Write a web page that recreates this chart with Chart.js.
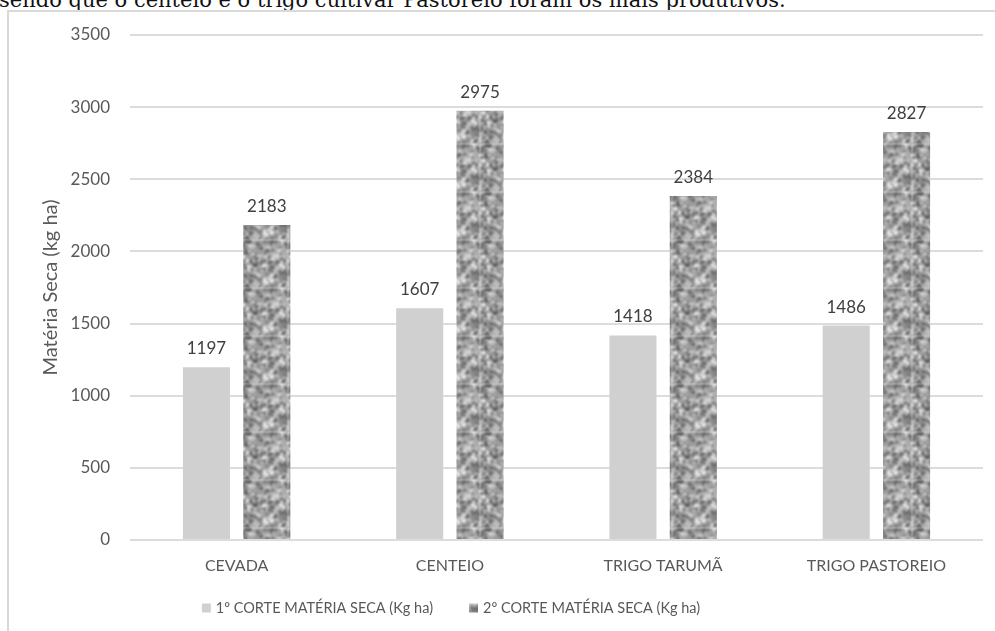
<!DOCTYPE html>
<html>
<head>
<meta charset="utf-8">
<script src="https://cdn.jsdelivr.net/npm/chart.js@4/dist/chart.umd.min.js"></script>
<style>
  html, body { margin: 0; padding: 0; background: #fff; overflow: hidden; }
  body { width: 995px; height: 631px; position: relative; }
  #toptext { position: absolute; left: -1px; top: -11px; line-height: 22px; font-family: "DejaVu Serif", serif; font-size: 21px; color: #111; white-space: nowrap; }
  #frame { position: absolute; left: 7px; top: 10px; width: 1000px; height: 700px; border-left: 2px solid #d9d9d9; border-top: 2px solid #d9d9d9; }
  #wrap { position: absolute; left: 0; top: 0; width: 995px; height: 631px; }
</style>
</head>
<body>
<div id="toptext">sendo que o centeio e o trigo cultivar Pastoreio foram os mais produtivos.</div>
<div id="frame"></div>
<div id="wrap"><canvas id="c" width="995" height="631"></canvas></div>
<script>
const categories = ["CEVADA", "CENTEIO", "TRIGO TARUMÃ", "TRIGO PASTOREIO"];
const series1Name = "1º CORTE MATÉRIA SECA (Kg ha)";
const series2Name = "2º CORTE MATÉRIA SECA (Kg ha)";
const series1 = [1197, 1607, 1418, 1486];
const series2 = [2183, 2975, 2384, 2827];
const yTicks = [0, 500, 1000, 1500, 2000, 2500, 3000, 3500];
const yTitle = "Matéria Seca (kg ha)";

// granite-like texture for the second series (seeded, deterministic)
function mulberry32(a){return function(){a|=0;a=a+0x6D2B79F5|0;let t=Math.imul(a^a>>>15,1|a);t=t+Math.imul(t^t>>>7,61|t)^t;return((t^t>>>14)>>>0)/4294967296;}}
function makeTexture(){
  const rnd = mulberry32(12345);
  const size = 48;
  const raw = document.createElement('canvas');
  raw.width = size; raw.height = size;
  const r = raw.getContext('2d');
  r.fillStyle = '#a4a4a4';
  r.fillRect(0,0,size,size);
  for (let i=0;i<650;i++){
    const x = rnd()*size, y = rnd()*size, rad = 0.6 + rnd()*1.8;
    const g = Math.round(85 + rnd()*150);
    r.fillStyle = `rgb(${g},${g},${g})`;
    for (const dx of [-size,0,size]) for (const dy of [-size,0,size]) {
      r.beginPath(); r.arc(x+dx,y+dy,rad,0,Math.PI*2); r.fill();
    }
  }
  const out = document.createElement('canvas');
  out.width = size; out.height = size;
  const o = out.getContext('2d');
  o.filter = 'blur(1px)';
  for (const dx of [-size,0,size]) for (const dy of [-size,0,size]) o.drawImage(raw,dx,dy);
  return out;
}
const tex = makeTexture();
const ctx = document.getElementById('c').getContext('2d');
const pattern = ctx.createPattern(tex, 'repeat');

const valueLabels = {
  id: 'valueLabels',
  afterDatasetsDraw(chart){
    const c = chart.ctx;
    c.save();
    c.font = '17px Lato';
    c.fillStyle = '#404040';
    c.textAlign = 'center';
    c.textBaseline = 'bottom';
    chart.data.datasets.forEach((ds, i) => {
      chart.getDatasetMeta(i).data.forEach((bar, j) => {
        c.fillText(String(ds.data[j]), bar.x, bar.y - 10);
      });
    });
    c.restore();
  }
};

// legend drawn from the datasets (labels + fills)
const bottomLegend = {
  id: 'bottomLegend',
  afterDraw(chart, args, opts){
    const c = chart.ctx;
    c.save();
    c.font = '14.5px Lato';
    c.textBaseline = 'middle';
    const box = 9, boxGap = 5, itemGap = 36;
    const items = chart.data.datasets.map(ds => ({ text: ds.label, fill: ds.backgroundColor, w: box + boxGap + c.measureText(ds.label).width }));
    const total = items.reduce((s, it) => s + it.w, 0) + itemGap * (items.length - 1);
    let x = opts.centerX - total / 2;
    const y = opts.centerY;
    items.forEach(it => {
      c.fillStyle = it.fill;
      c.fillRect(x, y - box / 2, box, box);
      c.fillStyle = '#595959';
      c.textAlign = 'left';
      c.fillText(it.text, x + box + boxGap, y);
      x += it.w + itemGap;
    });
    c.restore();
  }
};

new Chart(ctx, {
  type: 'bar',
  data: {
    labels: categories,
    datasets: [
      { label: series1Name, data: series1, backgroundColor: '#d1d0d1', borderWidth: 0 },
      { label: series2Name, data: series2, backgroundColor: pattern, borderWidth: 0 }
    ]
  },
  options: {
    responsive: false,
    animation: false,
    devicePixelRatio: 1,
    layout: { padding: { left: 0, right: 12, top: 35, bottom: 42 } },
    datasets: { bar: { categoryPercentage: 0.566, barPercentage: 0.78 } },
    plugins: {
      legend: { display: false },
      tooltip: { enabled: false },
      bottomLegend: { centerX: 451, centerY: 608 }
    },
    scales: {
      x: {
        grid: { display: false, drawTicks: false },
        border: { display: false },
        ticks: { font: { family: 'Lato', size: 16 }, color: '#595959', padding: 16 },
        afterFit(s){ s.height = 49; }
      },
      y: {
        min: 0, max: 3500,
        afterBuildTicks(s){ s.ticks = yTicks.map(v => ({ value: v })); },
        grid: { color: '#dcdcdc', lineWidth: 2, drawTicks: false },
        border: { display: false },
        ticks: { font: { family: 'Lato', size: 17 }, color: '#595959', padding: 20, callback: v => String(v) },
        title: { display: true, text: yTitle, font: { family: 'Lato', size: 20 }, color: '#595959', padding: { top: 39, bottom: 0 } },
        afterFit(s){ s.width = 130; }
      }
    }
  },
  plugins: [valueLabels, bottomLegend]
});
</script>
</body>
</html>
